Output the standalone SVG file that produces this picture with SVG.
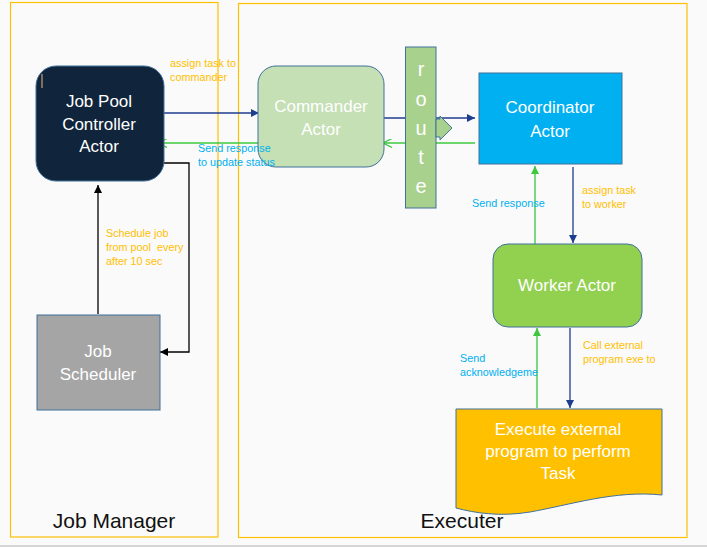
<svg xmlns="http://www.w3.org/2000/svg" width="707" height="548" viewBox="0 0 707 548">
<style>
.node{stroke:#41719c;stroke-width:1}
.t{font-family:"Liberation Sans",Arial,sans-serif;fill:#ffffff;font-size:17px;text-anchor:middle}
.lbl{font-family:"Liberation Sans",Arial,sans-serif;font-size:10.8px;white-space:pre}
.or{fill:#ffc000}
.cy{fill:#00b0f0}
.big{font-family:"Liberation Sans",Arial,sans-serif;font-size:21px;fill:#111111;text-anchor:middle}
.blue{stroke:#1f3d8f;stroke-width:1.3;fill:none}
.green{stroke:#3cc83c;stroke-width:1.3;fill:none}
.black{stroke:#000000;stroke-width:1.3;fill:none}
.cont{fill:none;stroke:#ffc000;stroke-width:1.2}
</style>
<defs>
<marker id="ab" viewBox="0 0 10 10" refX="10" refY="5" markerWidth="8" markerHeight="8" markerUnits="userSpaceOnUse" orient="auto"><path d="M0,0 L10,5 L0,10 Z" fill="#1f3d8f"/></marker>
<marker id="ak" viewBox="0 0 10 10" refX="10" refY="5" markerWidth="8" markerHeight="8" markerUnits="userSpaceOnUse" orient="auto"><path d="M0,0 L10,5 L0,10 Z" fill="#000000"/></marker>
<marker id="ag" viewBox="0 0 10 10" refX="10" refY="5" markerWidth="8" markerHeight="8" markerUnits="userSpaceOnUse" orient="auto"><path d="M0,0 L10,5 L0,10 Z" fill="#3cc83c"/></marker>
<marker id="ao" viewBox="0 0 10 10" refX="10" refY="5" markerWidth="9" markerHeight="9" markerUnits="userSpaceOnUse" orient="auto"><path d="M0,0 L10,5 L0,10" fill="none" stroke="#3cc83c" stroke-width="1.3"/></marker>
</defs>
<rect x="0" y="0" width="707" height="548" fill="#fafafa"/>
<rect x="0" y="546" width="707" height="2" fill="#ffffff"/>
<line x1="0" y1="546" x2="707" y2="546" stroke="#c8c8c8" stroke-width="1.5"/>

<g id="job-manager">
<rect class="cont" x="10.5" y="2.5" width="207.5" height="534.5"/>
<text class="big" x="114" y="528">Job Manager</text>
</g>
<g id="executer">
<rect class="cont" x="238.5" y="3.5" width="448.5" height="534"/>
<text class="big" x="462" y="528">Executer</text>
</g>

<g id="connectors">
<line class="blue" x1="164" y1="113" x2="259" y2="113" marker-end="url(#ab)"/>
<line class="green" x1="258" y1="143" x2="158" y2="143" marker-end="url(#ao)"/>
<line class="blue" x1="381" y1="118" x2="475" y2="118" marker-end="url(#ab)"/>
<line class="green" x1="475" y1="143" x2="383" y2="143" marker-end="url(#ao)"/>
<line class="green" x1="535" y1="244" x2="535" y2="166" marker-end="url(#ag)"/>
<line class="blue" x1="573" y1="167" x2="573" y2="243" marker-end="url(#ab)"/>
<line class="green" x1="537" y1="408" x2="537" y2="328" marker-end="url(#ag)"/>
<line class="blue" x1="570" y1="328" x2="570" y2="408" marker-end="url(#ab)"/>
<line class="black" x1="98" y1="314" x2="98" y2="185" marker-end="url(#ak)"/>
<polyline class="black" points="155,163 189,163 189,352 160,352" marker-end="url(#ak)"/>
</g>

<g id="job-pool-controller">
<rect class="node" x="36" y="66" width="128" height="115" rx="20" fill="#10253b"/>
<line x1="42" y1="74" x2="42" y2="88" stroke="#f4b183" stroke-width="1"/>
<text class="t" x="99" y="107">Job Pool</text>
<text class="t" x="99" y="130">Controller</text>
<text class="t" x="99" y="152">Actor</text>
</g>

<g id="commander">
<rect class="node" x="258" y="66" width="126" height="101" rx="18" fill="#c5e0b4"/>
<text class="t" x="321" y="112">Commander</text>
<text class="t" x="321" y="135">Actor</text>
</g>

<g id="route">
<rect class="node" x="405.5" y="47" width="30.5" height="161" fill="#a9d18e"/>
<polygon class="node" points="436,119 440,119 440,116 452,128 440,140 440,137 436,137" fill="#a9d18e"/>
<text class="t" style="font-size:20px" x="421" y="76">r</text>
<text class="t" style="font-size:20px" x="421" y="106">o</text>
<text class="t" style="font-size:20px" x="421" y="135">u</text>
<text class="t" style="font-size:20px" x="421" y="164">t</text>
<text class="t" style="font-size:20px" x="421" y="193">e</text>
</g>

<g id="coordinator">
<rect class="node" x="479" y="73" width="143" height="91" fill="#00b0f0"/>
<text class="t" x="550" y="113">Coordinator</text>
<text class="t" x="550" y="137">Actor</text>
</g>

<g id="worker">
<rect class="node" x="493" y="244" width="149" height="83" rx="15" fill="#92d050"/>
<text class="t" x="567" y="291">Worker Actor</text>
</g>

<g id="job-scheduler">
<rect class="node" x="37" y="315" width="123" height="95" fill="#a5a5a5"/>
<text class="t" x="98" y="357">Job</text>
<text class="t" x="98" y="380">Scheduler</text>
</g>

<g id="execute">
<path class="node" d="M456,409 H662 V495 C615,490 570,505 530,512 C500,517 475,513 456,508 Z" fill="#ffc000"/>
<text class="t" x="558" y="435">Execute external</text>
<text class="t" x="558" y="457">program to perform</text>
<text class="t" x="558" y="479">Task</text>
</g>

<g id="labels">
<text class="lbl or" x="170" y="67">assign task to</text>
<text class="lbl or" x="170" y="81">commander</text>
<text class="lbl cy" x="198" y="152">Send response</text>
<text class="lbl cy" x="198" y="165.5">to update status</text>
<text class="lbl or" x="106" y="237">Schedule job</text>
<text class="lbl or" x="106" y="251" xml:space="preserve">from pool  every</text>
<text class="lbl or" x="106" y="265">after 10 sec</text>
<text class="lbl cy" x="472" y="207">Send response</text>
<text class="lbl or" x="582" y="194">assign task</text>
<text class="lbl or" x="582" y="207.5">to worker</text>
<text class="lbl cy" x="460" y="362">Send</text>
<text class="lbl cy" x="460" y="376">acknowledgeme</text>
<text class="lbl or" x="583" y="349">Call external</text>
<text class="lbl or" x="583" y="363">program exe to</text>
</g>
</svg>
